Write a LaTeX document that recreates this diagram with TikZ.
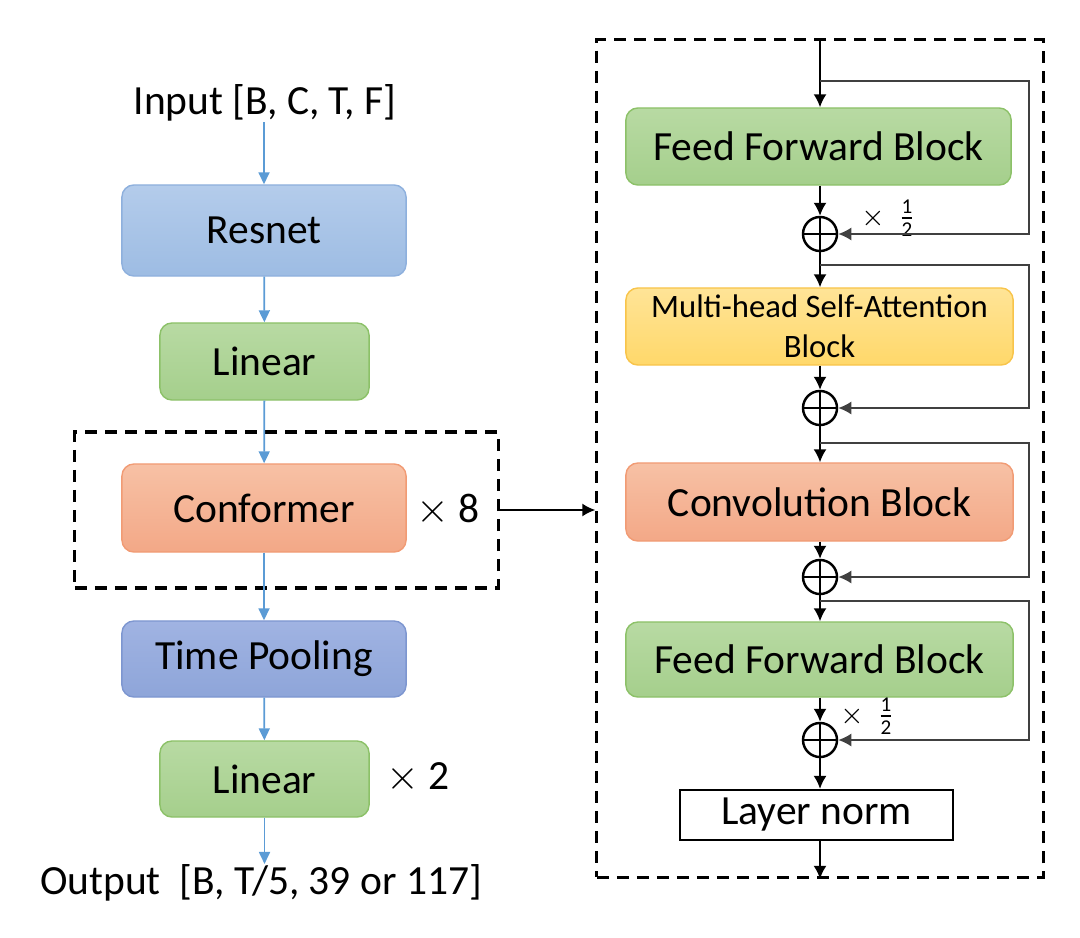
\documentclass[tikz,border=0pt]{standalone}
\usepackage{amsmath}
\usepackage{fontspec}
\setmainfont{Carlito}
\usetikzlibrary{arrows.meta,calc}

\definecolor{bluearrow}{HTML}{5B9BD5}
\definecolor{skipgray}{HTML}{404040}
\definecolor{resnettop}{HTML}{B4CCEB}
\definecolor{resnetbot}{HTML}{9DBCE3}
\definecolor{resnetline}{HTML}{8EB0DD}
\definecolor{greentop}{HTML}{B8DAA3}
\definecolor{greenbot}{HTML}{A5CF8C}
\definecolor{greenline}{HTML}{8CC168}
\definecolor{orangetop}{HTML}{F7C1A5}
\definecolor{orangebot}{HTML}{F3A887}
\definecolor{orangeline}{HTML}{F19B74}
\definecolor{pooltop}{HTML}{A0B3E2}
\definecolor{poolbot}{HTML}{8EA5D9}
\definecolor{poolline}{HTML}{7D96D0}
\definecolor{yellowtop}{HTML}{FFE497}
\definecolor{yellowbot}{HTML}{FFD86A}
\definecolor{yellowline}{HTML}{F8C44A}

\tikzset{
  blk/.style={rectangle,rounded corners=0.12cm,draw,line width=0.4pt,
    font=\fontsize{11.8pt}{14pt}\selectfont,inner sep=0pt},
  blueblk/.style={blk,draw=resnetline,top color=resnettop,bottom color=resnetbot},
  greenblk/.style={blk,draw=greenline,top color=greentop,bottom color=greenbot},
  orangeblk/.style={blk,draw=orangeline,top color=orangetop,bottom color=orangebot},
  purpleblk/.style={blk,draw=poolline,top color=pooltop,bottom color=poolbot},
  yellowblk/.style={blk,draw=yellowline,top color=yellowtop,bottom color=yellowbot,
    font=\fontsize{9.3pt}{11.5pt}\selectfont,align=center},
  normblk/.style={rectangle,draw,line width=0.65pt,inner sep=0pt,font=\fontsize{11.8pt}{14pt}\selectfont},
  dashbox/.style={rectangle,draw,line width=0.9pt,dash pattern=on 1.2mm off 0.8mm,inner sep=0pt},
  txt/.style={font=\fontsize{11.8pt}{14pt}\selectfont,inner sep=0pt},
  half/.style={font=\fontsize{8pt}{9pt}\selectfont,inner sep=0pt},
  sumnode/.style={circle,draw,line width=0.7pt,minimum size=0.34cm,inner sep=0pt,
    path picture={\draw[line width=0.7pt] (path picture bounding box.north) -- (path picture bounding box.south)
      (path picture bounding box.west) -- (path picture bounding box.east);}},
  bluearr/.style={draw=bluearrow,line width=0.5pt,-{Triangle[length=1.2mm,width=1.1mm]},fill=bluearrow},
  blkarr/.style={line width=0.5pt,-{Latex[length=1.3mm,width=1.3mm]}},
  skip/.style={draw=skipgray,line width=0.5pt,-{Latex[length=1.3mm,width=1.3mm]}},
}

\begin{document}
\begin{tikzpicture}[x=0.01cm,y=-0.01cm]
  \useasboundingbox (0,0) rectangle (1080,937);

  % left column
  \node[txt] (input) at (265,103) {Input [B, C, T, F]};
  \node[blueblk,minimum width=2.84cm,minimum height=0.91cm] (resnet) at (264,230.5) {Resnet};
  \node[greenblk,minimum width=2.09cm,minimum height=0.77cm] (lin1) at (264.5,361.5) {Linear};
  \node[orangeblk,minimum width=2.84cm,minimum height=0.88cm] (conf) at (264,508) {Conformer};
  \node[txt] (times8) at (448,510) {$\times$ 8};
  \node[dashbox,minimum width=4.23cm,minimum height=1.56cm] (confbox) at (286.5,510) {};
  \node[purpleblk,minimum width=2.84cm,minimum height=0.76cm] (pool) at (264,659) {Time Pooling};
  \node[greenblk,minimum width=2.09cm,minimum height=0.76cm] (lin2) at (264.5,779) {Linear};
  \node[txt] (times2) at (418,778) {$\times$ 2};
  \node[txt] (output) at (261,883) {Output\ \ [B, T/5, 39 or 117]};

  \draw[bluearr] (input.south -| resnet) -- (resnet);
  \draw[bluearr] (resnet) -- (lin1);
  \draw[bluearr] (lin1) -- (conf);
  \draw[bluearr] (conf) -- (pool);
  \draw[bluearr] (pool) -- (lin2);
  \draw[bluearr] (lin2) -- (lin2 |- output.north);

  % conformer block
  \node[dashbox,minimum width=4.46cm,minimum height=8.37cm] (cbox) at (820,458.5) {};
  \draw[blkarr] (confbox.east |- times8) -- (cbox.west |- times8);

  \node[greenblk,minimum width=3.85cm,minimum height=0.77cm] (ff1) at (818.5,146.5) {Feed Forward Block};
  \node[sumnode] (add1) at (820,234) {};
  \node[yellowblk,minimum width=3.87cm,minimum height=0.77cm] (mhsa) at (819.5,326.5) {Multi-head Self-Attention\\Block};
  \node[sumnode] (add2) at (820,408) {};
  \node[orangeblk,minimum width=3.87cm,minimum height=0.78cm] (convb) at (819.5,502) {Convolution Block};
  \node[sumnode] (add3) at (820,577) {};
  \node[greenblk,minimum width=3.87cm,minimum height=0.75cm] (ff2) at (819.5,659.5) {Feed Forward Block};
  \node[sumnode] (add4) at (820,740) {};
  \node[normblk,minimum width=2.73cm,minimum height=0.5cm] (norm) at (816.5,815) {Layer norm};
  \node[half] (half1) at (889,218) {$\times$\ \ $\frac{\text{1}}{\text{2}}$};
  \node[half] (half2) at (868,716) {$\times$\ \ $\frac{\text{1}}{\text{2}}$};

  \coordinate (rx) at (1029,0);
  \coordinate (br1) at (820,81);
  \coordinate (br2) at (820,265);
  \coordinate (br3) at (820,443);
  \coordinate (br4) at (820,601);

  \draw[blkarr] (cbox.north -| add1) -- (ff1.north -| add1);
  \draw[blkarr] (ff1.south -| add1) -- (add1.north);
  \draw[blkarr] (add1.south) -- (mhsa.north -| add1);
  \draw[blkarr] (mhsa.south -| add2) -- (add2.north);
  \draw[blkarr] (add2.south) -- (convb.north -| add2);
  \draw[blkarr] (convb.south -| add3) -- (add3.north);
  \draw[blkarr] (add3.south) -- (ff2.north -| add3);
  \draw[blkarr] (ff2.south -| add4) -- (add4.north);
  \draw[blkarr] (add4.south) -- (norm.north -| add4);
  \draw[blkarr] (norm.south -| add4) -- (cbox.south -| add4);

  % residual paths
  \draw[skip] (br1) -- (br1 -| rx) |- (add1.east);
  \draw[skip] (br2) -- (br2 -| rx) |- (add2.east);
  \draw[skip] (br3) -- (br3 -| rx) |- (add3.east);
  \draw[skip] (br4) -- (br4 -| rx) |- (add4.east);
\end{tikzpicture}
\end{document}
